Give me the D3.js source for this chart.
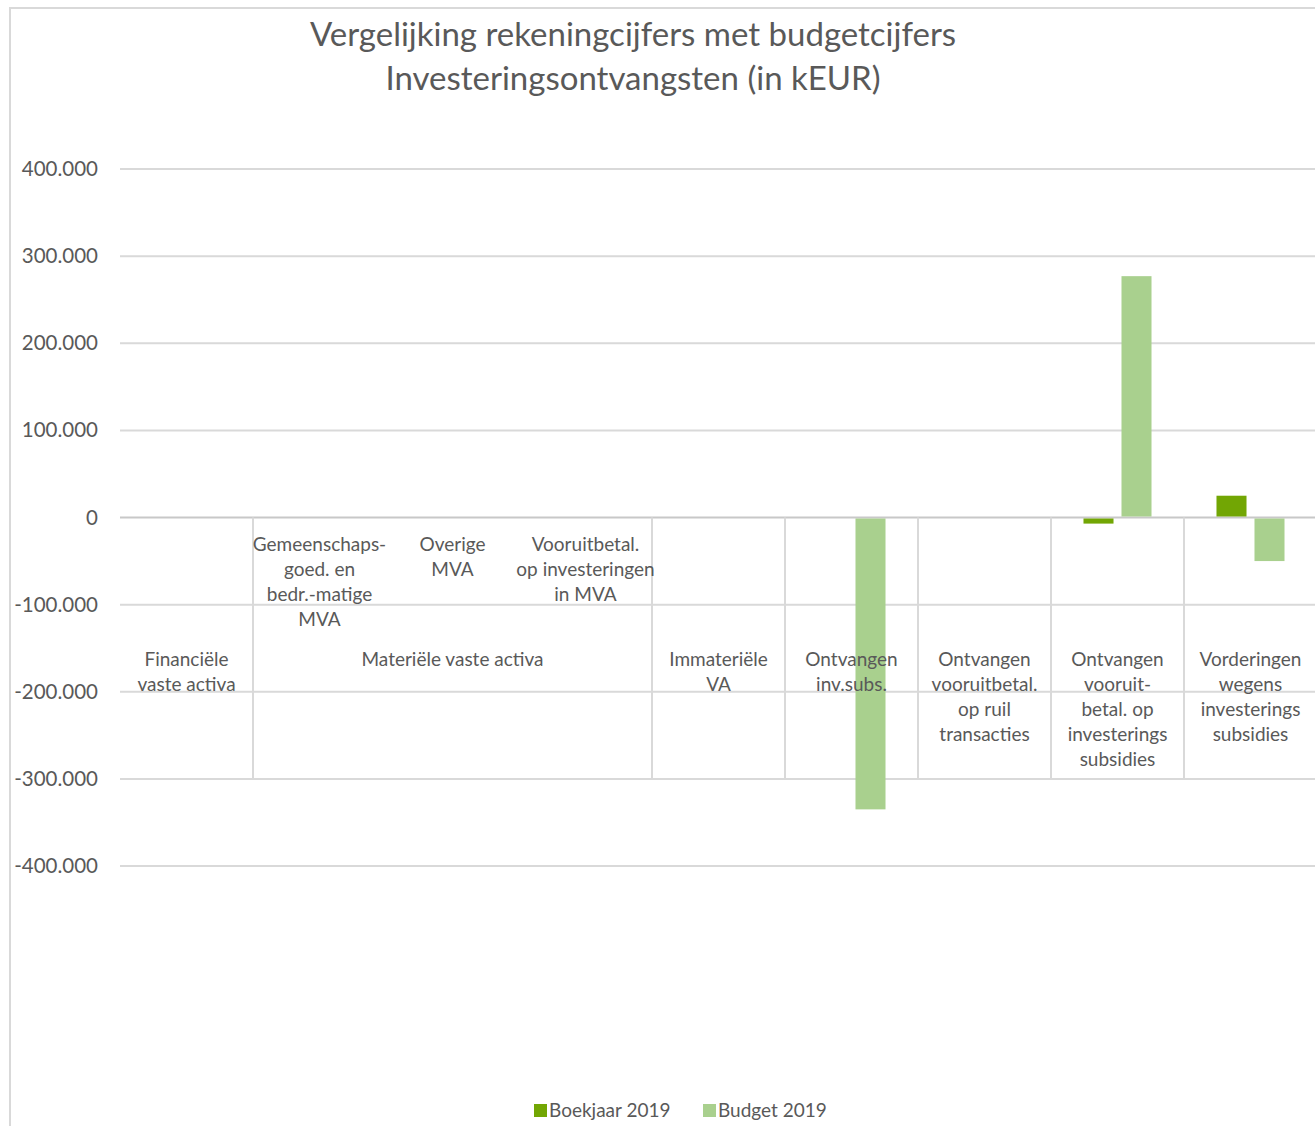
<!DOCTYPE html>
<html>
<head>
<meta charset="utf-8">
<script src="https://cdn.jsdelivr.net/npm/d3@7"></script>
<style>
  body { margin: 0; background: #fff; }
  svg { display: block; font-family: Lato, "Open Sans", sans-serif; }
</style>
</head>
<body>
<div id="chart"></div>
<script>
// Data (kEUR)
const categories = [
    'Financiële vaste activa',
    'Gemeenschapsgoed. en bedr.-matige MVA',
    'Overige MVA',
    'Vooruitbetal. op investeringen in MVA',
    'Immateriële VA',
    'Ontvangen inv.subs.',
    'Ontvangen vooruitbetal. op ruil transacties',
    'Ontvangen vooruit-betal. op investerings subsidies',
    'Vorderingen wegens investerings subsidies'
];
// second level labels (only inside Materiële vaste activa)
const subLabels = [
    [],
    ['Gemeenschaps-', 'goed. en', 'bedr.-matige', 'MVA'],
    ['Overige', 'MVA'],
    ['Vooruitbetal.', 'op investeringen', 'in MVA'],
    [], [], [], [], []
];
// first level labels, with the number of categories they cover
const groupLabels = [
    { lines: ['Financiële', 'vaste activa'], span: 1 },
    { lines: ['Materiële vaste activa'], span: 3 },
    { lines: ['Immateriële', 'VA'], span: 1 },
    { lines: ['Ontvangen', 'inv.subs.'], span: 1 },
    { lines: ['Ontvangen', 'vooruitbetal.', 'op ruil', 'transacties'], span: 1 },
    { lines: ['Ontvangen', 'vooruit-', 'betal. op', 'investerings', 'subsidies'], span: 1 },
    { lines: ['Vorderingen', 'wegens', 'investerings', 'subsidies'], span: 1 }
];
const series = ['Boekjaar 2019', 'Budget 2019'];
const boekjaar = [0, 0, 0, 0, 0, 0, 0, -7000, 25000];
const budget = [0, 0, 0, 0, 0, -335000, 0, 277000, -50000];
const yTicks = [400000, 300000, 200000, 100000, 0, -100000, -200000, -300000, -400000];

const colors = { 'Boekjaar 2019': '#72a604', 'Budget 2019': '#a9d08e' };
const grid = '#d9d9d9';
const textColor = '#595959';

const W = 1315, H = 1126;
const svg = d3.select('#chart').append('svg')
    .attr('width', W)
    .attr('height', H);

// chart area border (only top and left visible)
svg.append('path')
    .attr('d', `M10,${H} L10,8 L${W},8`)
    .attr('fill', 'none')
    .attr('stroke', grid)
    .attr('stroke-width', 2);

// Title
const title = svg.append('text')
    .attr('x', 633)
    .attr('text-anchor', 'middle')
    .attr('fill', textColor)
    .style('font-size', '33px');
title.append('tspan').attr('x', 633).attr('y', 46).text('Vergelijking rekeningcijfers met budgetcijfers');
title.append('tspan').attr('x', 633).attr('y', 90).text('Investeringsontvangsten (in kEUR)');

// Scales
const x0 = d3.scaleBand()
    .domain(categories)
    .range([120, 1317])
    .padding(0);

const x1 = d3.scaleBand()
    .domain(series)
    .range([0, x0.bandwidth()])
    .paddingInner(0.21)
    .paddingOuter(0.855);

const y = d3.scaleLinear()
    .domain([-400000, 400000])
    .range([866, 169]);

const nl = d3.formatLocale({ decimal: ',', thousands: '.', grouping: [3], currency: ['€', ''], minus: '-' });
const fmt = nl.format(',.0f');

// Gridlines
svg.append('g')
    .selectAll('line')
    .data(yTicks)
    .join('line')
    .attr('x1', 120)
    .attr('x2', W)
    .attr('y1', d => y(d))
    .attr('y2', d => y(d))
    .attr('stroke', d => d === 0 ? '#c8c8c8' : grid)
    .attr('stroke-width', 2);

// Y axis labels
const yAxis = svg.append('g')
    .attr('transform', 'translate(98,0)')
    .call(d3.axisLeft(y).tickValues(yTicks).tickFormat(fmt).tickSize(0).tickPadding(0));
yAxis.select('.domain').remove();
yAxis.selectAll('text')
    .attr('fill', textColor)
    .style('font-size', '20.5px')
    .style('font-family', 'Lato, sans-serif');

// Category separators (from 0 down to -300.000)
let start = 0;
const sepX = [];
groupLabels.forEach((g, i) => {
    if (i > 0) sepX.push(x0(categories[start]));
    start += g.span;
});
sepX.push(x0.range()[1]);
svg.append('g')
    .selectAll('line')
    .data(sepX)
    .join('line')
    .attr('x1', d => d)
    .attr('x2', d => d)
    .attr('y1', y(0))
    .attr('y2', y(-300000))
    .attr('stroke', grid)
    .attr('stroke-width', 2);

// Bars
const rows = categories.map((c, i) => ({ cat: c, values: [
    { key: 'Boekjaar 2019', value: boekjaar[i] },
    { key: 'Budget 2019', value: budget[i] }
] }));

svg.append('g')
    .selectAll('g')
    .data(rows)
    .join('g')
    .attr('transform', d => `translate(${x0(d.cat)},0)`)
    .selectAll('rect')
    .data(d => d.values.filter(v => v.value !== 0))
    .join('rect')
    .attr('x', d => x1(d.key))
    .attr('width', x1.bandwidth())
    .attr('y', d => d.value >= 0 ? y(d.value) : y(0) + 1)
    .attr('height', d => d.value >= 0 ? y(0) - y(d.value) - 1 : y(d.value) - y(0) - 1)
    .attr('fill', d => colors[d.key]);

// Category labels
const lineH = 25;
const labels = svg.append('g')
    .attr('fill', textColor)
    .attr('text-anchor', 'middle')
    .style('font-size', '19px');

subLabels.forEach((lines, i) => {
    if (!lines.length) return;
    const cx = x0(categories[i]) + x0.bandwidth() / 2;
    const t = labels.append('text');
    lines.forEach((l, j) => t.append('tspan').attr('x', cx).attr('y', 551 + j * lineH).text(l));
});

start = 0;
groupLabels.forEach(g => {
    const a = x0(categories[start]);
    const b = a + x0.bandwidth() * g.span;
    const cx = (a + b) / 2;
    const t = labels.append('text');
    g.lines.forEach((l, j) => t.append('tspan').attr('x', cx).attr('y', 666 + j * lineH).text(l));
    start += g.span;
});

// Legend
const legend = svg.append('g')
    .attr('transform', 'translate(534,1104)');
const legendX = [0, 169];
series.forEach((s, i) => {
    const g = legend.append('g').attr('transform', `translate(${legendX[i]},0)`);
    g.append('rect').attr('width', 13).attr('height', 13).attr('fill', colors[s]);
    g.append('text')
        .attr('x', 15)
        .attr('y', 13)
        .attr('fill', textColor)
        .style('font-size', '19px')
        .text(s);
});
</script>
</body>
</html>
